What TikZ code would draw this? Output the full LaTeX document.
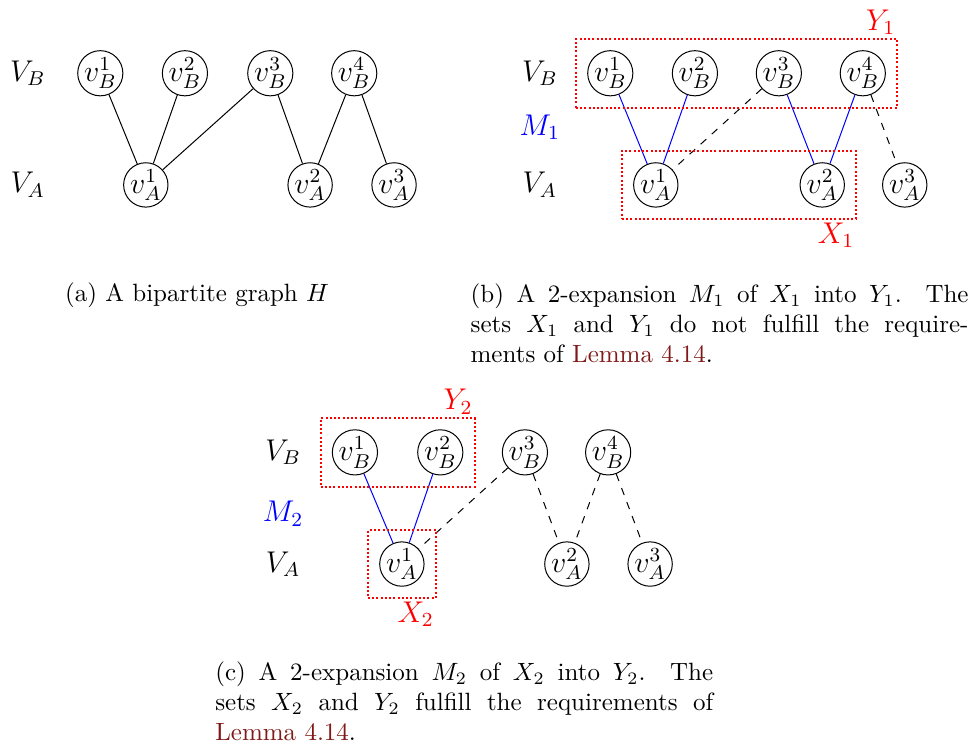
\documentclass[tikz,border=0pt]{standalone}
\usepackage{amsmath, amssymb}
\usepackage{xcolor}
\usepackage{tikz}
\usetikzlibrary{fit}
\definecolor{lemR}{RGB}{128,24,24}
\tikzset{vert/.style={draw, circle, thin, minimum size=0.62cm, inner sep=0pt, font=\large},
  rowlab/.style={font=\large},
  setbox/.style={draw=red, line width=0.8pt, dash pattern=on 0.8pt off 0.9pt, inner sep=4.5pt},
  setlab/.style={red, font=\large, inner sep=1pt},
  matched/.style={blue, thin},
  unmatched/.style={black, thin, dashed},
  capt/.style={anchor=north west, inner sep=0pt, text width=7cm, align=justify}}

\begin{document}
\begin{tikzpicture}
\useasboundingbox (0,0) rectangle (13.75,10.59);
% (a) the graph H
\node[rowlab] (aVB) at (0.39,9.56) {$V_B$};
\node[rowlab] (aVA) at (0.39,7.99) {$V_A$};
\foreach \i/\x in {1/1.41,2/2.60,3/3.80,4/4.98}
  \node[vert] (ab\i) at (\x,9.56) {$v_B^{\i}$};
\foreach \i/\x in {1/2.05,2/4.36,3/5.54}
  \node[vert] (aa\i) at (\x,7.99) {$v_A^{\i}$};
\foreach \u/\v in {1/1,2/1,3/1,3/2,4/2,4/3}
  \draw[thin] (ab\u) -- (aa\v);
\node[anchor=base] (capA) at (2.77,6.35) {(a) A bipartite graph $H$};
% (b) expansion M_1
\node[rowlab] (bVB) at (7.59,9.56) {$V_B$};
\node[rowlab, blue] (bM) at (7.59,8.80) {$M_1$};
\node[rowlab] (bVA) at (7.59,7.99) {$V_A$};
\foreach \i/\x in {1/8.58,2/9.77,3/10.95,4/12.13}
  \node[vert] (bb\i) at (\x,9.56) {$v_B^{\i}$};
\foreach \i/\x in {1/9.22,2/11.56,3/12.72}
  \node[vert] (ba\i) at (\x,7.99) {$v_A^{\i}$};
\draw[matched] (bb1) -- (ba1);
\draw[matched] (bb2) -- (ba1);
\draw[matched] (bb3) -- (ba2);
\draw[matched] (bb4) -- (ba2);
\draw[unmatched] (bb3) -- (ba1);
\draw[unmatched] (bb4) -- (ba3);
\node[setbox, fit=(bb1)(bb4)] (Y1) {};
\node[setbox, fit=(ba1)(ba2)] (X1) {};
\node[setlab, anchor=south east] (Y1lab) at (Y1.north east) {$Y_1$};
\node[setlab, anchor=north east] (X1lab) at (X1.south east) {$X_1$};
\node[capt] (capB) at (6.61,6.61) {(b) A 2-expansion $M_1$ of $X_1$ into $Y_1$. The\linebreak
  sets $X_1$ and $Y_1$ do not fulfill the require-\linebreak
  ments of \textcolor{lemR}{Lemma~4.14}.};
% (c) expansion M_2
\node[rowlab] (cVB) at (3.98,4.23) {$V_B$};
\node[rowlab, blue] (cM) at (3.98,3.37) {$M_2$};
\node[rowlab] (cVA) at (3.98,2.66) {$V_A$};
\foreach \i/\x in {1/4.99,2/6.19,3/7.38,4/8.55}
  \node[vert] (cb\i) at (\x,4.23) {$v_B^{\i}$};
\foreach \i/\x in {1/5.65,2/7.97,3/9.14}
  \node[vert] (ca\i) at (\x,2.66) {$v_A^{\i}$};
\draw[matched] (cb1) -- (ca1);
\draw[matched] (cb2) -- (ca1);
\foreach \u/\v in {3/1,3/2,4/2,4/3}
  \draw[unmatched] (cb\u) -- (ca\v);
\node[setbox, fit=(cb1)(cb2)] (Y2) {};
\node[setbox, fit=(ca1)] (X2) {};
\node[setlab, anchor=south east] (Y2lab) at (Y2.north east) {$Y_2$};
\node[setlab, anchor=north east] (X2lab) at (X2.south east) {$X_2$};
\node[capt] (capC) at (3.02,1.29) {(c) A 2-expansion $M_2$ of $X_2$ into $Y_2$. The\linebreak
  sets $X_2$ and $Y_2$ fulfill the requirements of\linebreak
  \textcolor{lemR}{Lemma~4.14}.};
\end{tikzpicture}
\end{document}
